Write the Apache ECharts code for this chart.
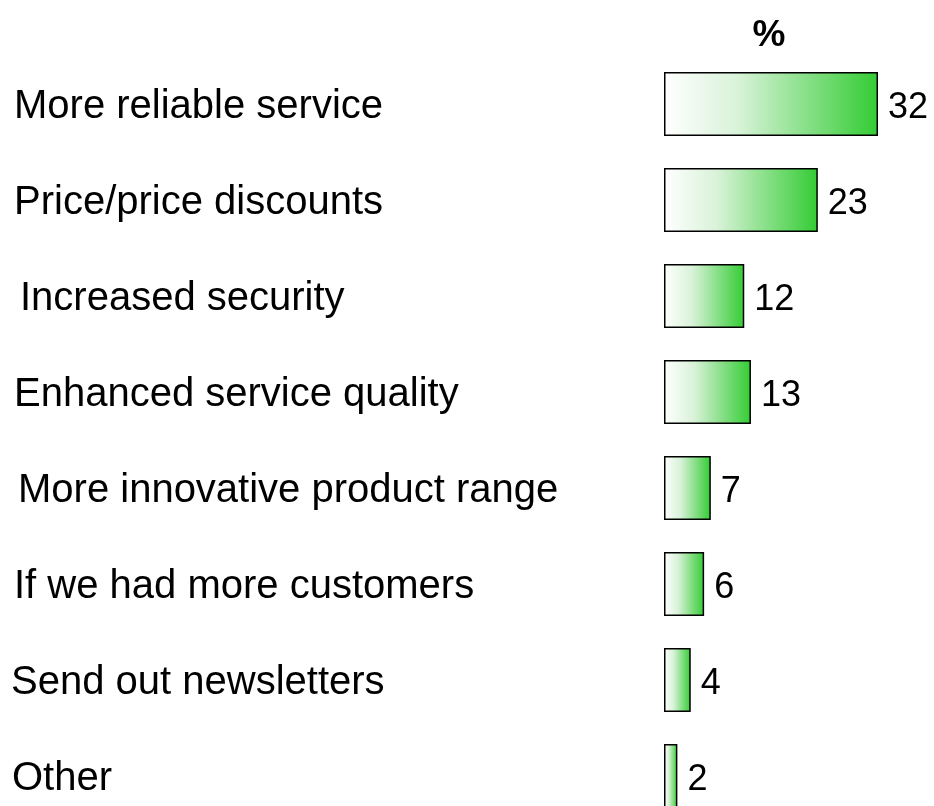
<!DOCTYPE html>
<html>
	<head>
		<meta charset="UTF-8">
		<title></title>
		<style>
			html, body { margin: 0; padding: 0; background: #fff; overflow: hidden; }
			/* 图表区比窗口略高，最后一根柱子在底部被裁掉 */
			#chart { width: 934px; height: 830px; }
		</style>
	</head>
	<body>
		<div id="chart"></div>
		<script src="https://cdn.jsdelivr.net/npm/echarts@6/dist/echarts.min.js"></script>
		<script type="text/javascript">
			// 数据
			var categories = [
				'More reliable service',
				'Price/price discounts',
				'Increased security',
				'Enhanced service quality',
				'More innovative product range',
				'If we had more customers',
				'Send out newsletters',
				'Other'
			];
			var values = [32, 23, 12, 13, 7, 6, 4, 2];
			var unitLabel = '%';

			// 标签微调（左侧缩进）
			var labelIndent = [3, 3, 9, 3, 7, 3, 0, 1];
			var rich = {};
			for (var i = 0; i < labelIndent.length; i++) {
				rich['s' + i] = {
					fontSize: 40,
					fontFamily: 'Liberation Sans, Arial, sans-serif',
					color: '#000',
					padding: [5, 0, 0, labelIndent[i]]
				};
			}

			var myChart = echarts.init(document.getElementById('chart'));
			var option = {
				animation: false,
				title: {
					text: unitLabel,
					left: 764,
					top: 12,
					textAlign: 'center',
					textStyle: {
						fontSize: 37,
						fontWeight: 'bold',
						fontFamily: 'Liberation Sans, Arial, sans-serif',
						color: '#000'
					}
				},
				grid: {
					left: 664,
					top: 56,
					width: 267.5,
					height: 768
				},
				xAxis: {
					type: 'value',
					min: 0,
					max: 40,
					show: false
				},
				yAxis: {
					type: 'category',
					inverse: true,
					data: categories,
					axisLine: { show: false },
					axisTick: { show: false },
					axisLabel: {
						align: 'left',
						margin: 653,
						formatter: function (value, index) {
							return '{s' + index + '|' + value + '}';
						},
						rich: rich
					}
				},
				series: [{
					type: 'bar',
					data: values,
					barWidth: 64,
					itemStyle: {
						color: {
							type: 'linear',
							x: 0, y: 0, x2: 1, y2: 0,
							colorStops: [
								{ offset: 0, color: '#ffffff' },
								{ offset: 0.35, color: '#d8f2d8' },
								{ offset: 1, color: '#33cc33' }
							]
						},
						borderColor: '#000',
						borderWidth: 1.5
					},
					label: {
						show: true,
						position: 'right',
						distance: 10,
						offset: [0, 4],
						fontSize: 36,
						fontFamily: 'Liberation Sans, Arial, sans-serif',
						color: '#000'
					}
				}]
			};
			myChart.setOption(option);
		</script>
	</body>
</html>
